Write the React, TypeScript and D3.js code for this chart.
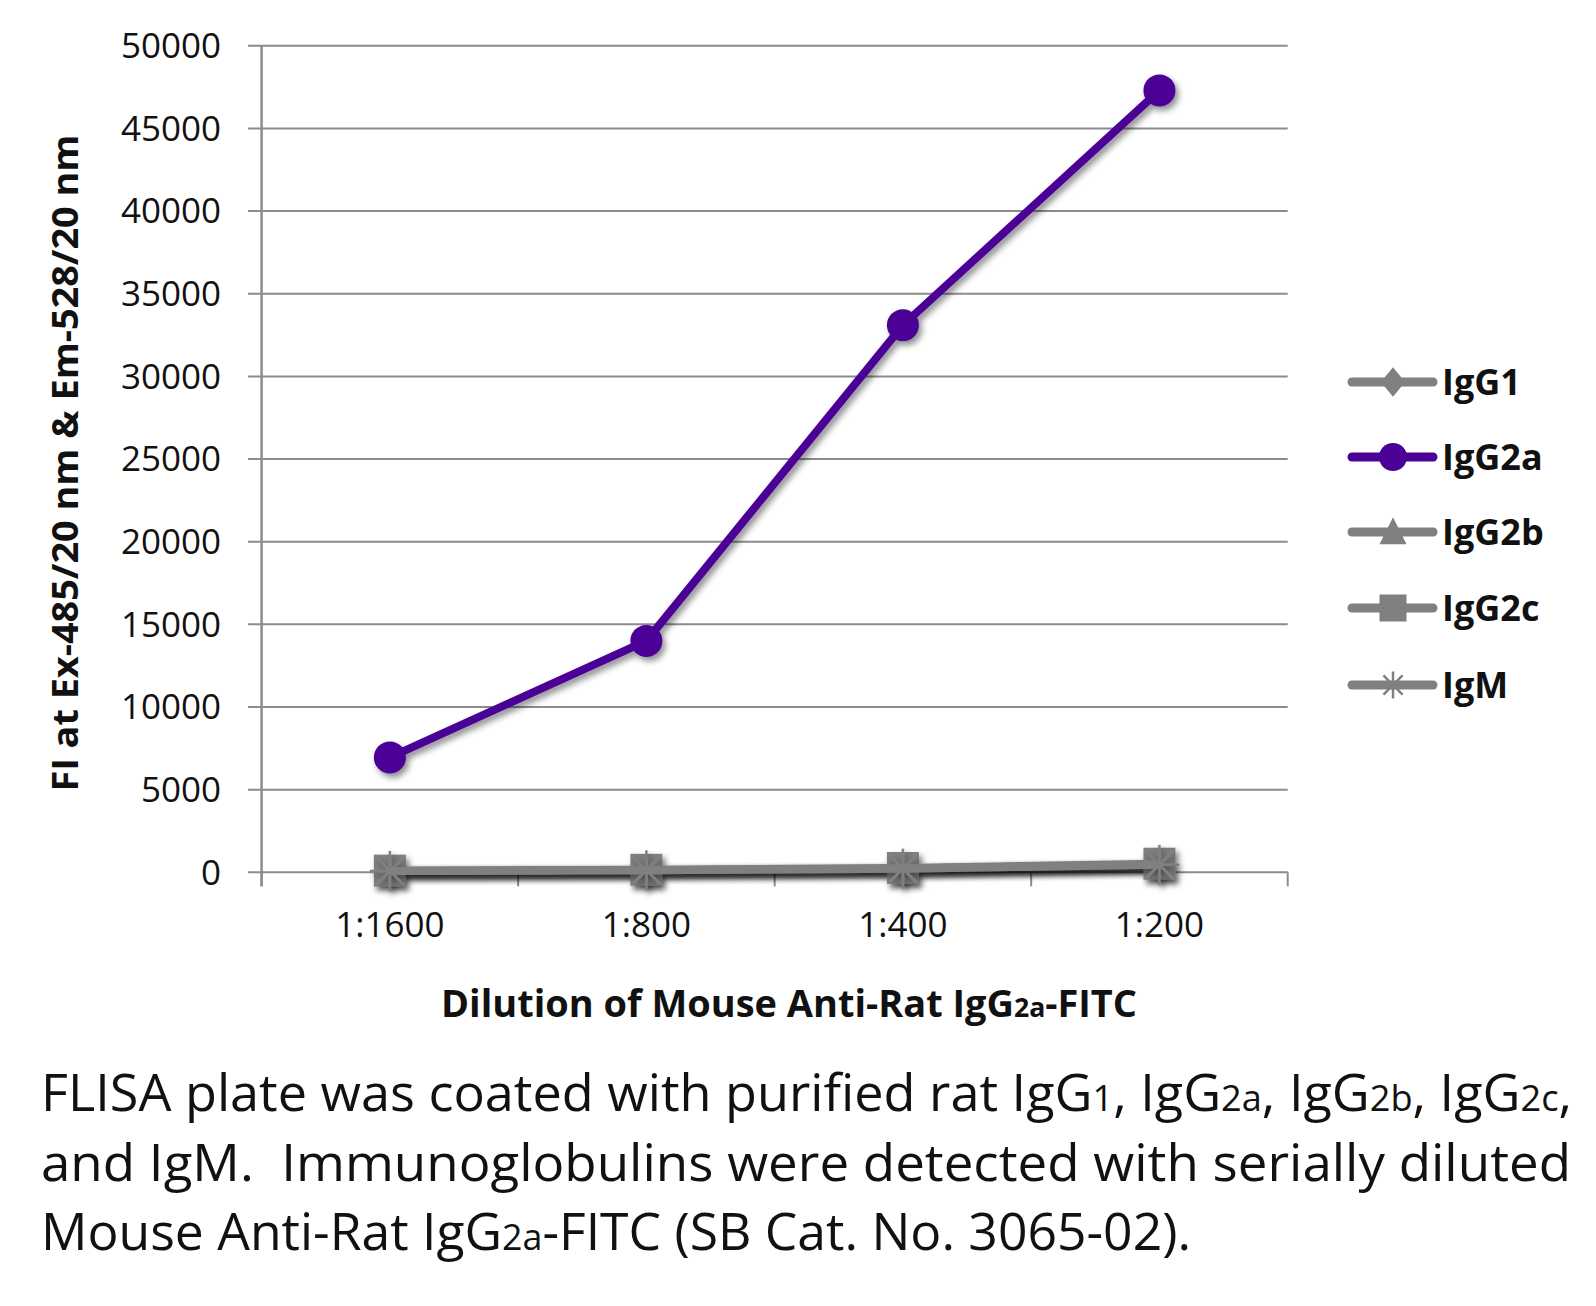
import React from "react";
import * as d3 from "d3";

const categories = ["1:1600", "1:800", "1:400", "1:200"];
const seriesNames = ["IgG1", "IgG2a", "IgG2b", "IgG2c", "IgM"];
const igG1 = [80, 110, 200, 420];
const igG2a = [6950, 14000, 33100, 47300];
const igG2b = [90, 130, 230, 470];
const igG2c = [100, 150, 260, 520];
const igM = [80, 120, 220, 450];
const yTicks = [0, 5000, 10000, 15000, 20000, 25000, 30000, 35000, 40000, 45000, 50000];

const PURPLE = "#4b0096";
const GRAY = "#808080";
const GRID = "#8c8c8c";

const series = [
  { name: seriesNames[0], values: igG1, color: GRAY, marker: "diamond" },
  { name: seriesNames[1], values: igG2a, color: PURPLE, marker: "circle" },
  { name: seriesNames[2], values: igG2b, color: GRAY, marker: "triangle" },
  { name: seriesNames[3], values: igG2c, color: GRAY, marker: "square" },
  { name: seriesNames[4], values: igM, color: GRAY, marker: "star" },
];

function Marker({ type, x, y, color, s }: { type: string; x: number; y: number; color: string; s: number }) {
  if (type === "circle") return <circle cx={x} cy={y} r={s * 0.5} fill={color} />;
  if (type === "diamond")
    return <path d={`M${x},${y - s * 0.55}L${x + s * 0.45},${y}L${x},${y + s * 0.55}L${x - s * 0.45},${y}Z`} fill={color} />;
  if (type === "triangle")
    return <path d={`M${x},${y - s * 0.55}L${x + s * 0.5},${y + s * 0.45}L${x - s * 0.5},${y + s * 0.45}Z`} fill={color} />;
  if (type === "square") return <rect x={x - s * 0.5} y={y - s * 0.5} width={s} height={s} fill={color} />;
  const r = s * 0.5;
  const lines = [];
  for (let i = 0; i < 4; i++) {
    const a = (i * Math.PI) / 4;
    lines.push(
      <line key={i} x1={x - r * Math.cos(a)} y1={y - r * Math.sin(a)} x2={x + r * Math.cos(a)} y2={y + r * Math.sin(a)} stroke={color} strokeWidth={2.5} />
    );
  }
  return <g>{lines}</g>;
}

export default function App() {
  const W = 1596, H = 1306;
  const left = 261.6, right = 1287.7, top = 45.8, bottom = 872.3;
  const x = d3.scaleBand<string>().domain(categories).range([left, right]).padding(0);
  const y = d3.scaleLinear().domain([0, 50000]).range([bottom, top]);
  const cx = (c: string) => (x(c) as number) + x.bandwidth() / 2;
  const line = d3.line<number>().x((_, i) => cx(categories[i])).y((v) => y(v));
  const font = "'Open Sans', 'Noto Sans', sans-serif";
  const legendRows = [382, 457, 532, 608, 685];
  const plotSize: Record<string, number> = { circle: 32, diamond: 30, triangle: 30, square: 32, star: 40 };

  return (
    <svg width={W} height={H} style={{ position: "absolute", left: 0, top: 0, background: "#fff" }} fontFamily={font}>
      <defs>
        <filter id="sh" x="-50%" y="-50%" width="200%" height="200%">
          <feDropShadow dx="3" dy="4" stdDeviation="3" floodColor="#000" floodOpacity="0.45" />
        </filter>
      </defs>
      <rect width={W} height={H} fill="#fff" />
      {yTicks.map((t) => (
        <g key={t}>
          <line x1={248} x2={right} y1={y(t)} y2={y(t)} stroke={GRID} strokeWidth={2} />
          <text x={221} y={y(t)} dy="0.35em" textAnchor="end" fontSize={35} fill="#111">{t}</text>
        </g>
      ))}
      <line x1={left} x2={left} y1={top} y2={bottom + 14} stroke={GRID} strokeWidth={2.5} />
      {d3.range(categories.length + 1).map((i) => {
        const xv = left + i * x.bandwidth();
        return <line key={i} x1={xv} x2={xv} y1={bottom} y2={bottom + 14} stroke={GRID} strokeWidth={2} />;
      })}
      {categories.map((c) => (
        <text key={c} x={cx(c)} y={925} dy="0.35em" textAnchor="middle" fontSize={35} fill="#111">{c}</text>
      ))}
      {series.map((s) => (
        <g key={s.name} filter="url(#sh)">
          <path d={line(s.values) as string} fill="none" stroke={s.color} strokeWidth={8} strokeLinejoin="round" />
          {s.values.map((v, i) => (
            <Marker key={i} type={s.marker} x={cx(categories[i])} y={y(v)} color={s.color} s={plotSize[s.marker]} />
          ))}
        </g>
      ))}
      {series.map((s, i) => (
        <g key={s.name}>
          <line x1={1352} x2={1433} y1={legendRows[i]} y2={legendRows[i]} stroke={s.color} strokeWidth={9} strokeLinecap="round" />
          <Marker type={s.marker} x={1393} y={legendRows[i]} color={s.color} s={s.marker === "circle" ? 28 : 27} />
          <text x={1442} y={legendRows[i]} dy="0.36em" fontSize={36} fontWeight="bold" fill="#111">{s.name}</text>
        </g>
      ))}
      <text transform={`translate(78,463) rotate(-90)`} textAnchor="middle" fontSize={36} fontWeight="bold" fill="#111" textLength={657} lengthAdjust="spacingAndGlyphs">
        FI at Ex-485/20 nm &amp; Em-528/20 nm
      </text>
      <text x={789} y={1017} textAnchor="middle" fontSize={37} fontWeight="bold" fill="#111" textLength={696} lengthAdjust="spacingAndGlyphs">
        Dilution of Mouse Anti-Rat IgG<tspan fontSize={26}>2a</tspan>-FITC
      </text>
      <g fontSize={52} fill="#111">
        <text x={41} y={1111} textLength={1531} lengthAdjust="spacingAndGlyphs">
          FLISA plate was coated with purified rat IgG<tspan fontSize={36}>1</tspan>, IgG<tspan fontSize={36}>2a</tspan>, IgG<tspan fontSize={36}>2b</tspan>, IgG<tspan fontSize={36}>2c</tspan>,
        </text>
        <text x={41} y={1181} textLength={1530} lengthAdjust="spacingAndGlyphs" xmlSpace="preserve">
          and IgM.  Immunoglobulins were detected with serially diluted
        </text>
        <text x={41} y={1250} textLength={1150} lengthAdjust="spacingAndGlyphs">
          Mouse Anti-Rat IgG<tspan fontSize={36}>2a</tspan>-FITC (SB Cat. No. 3065-02).
        </text>
      </g>
    </svg>
  );
}
